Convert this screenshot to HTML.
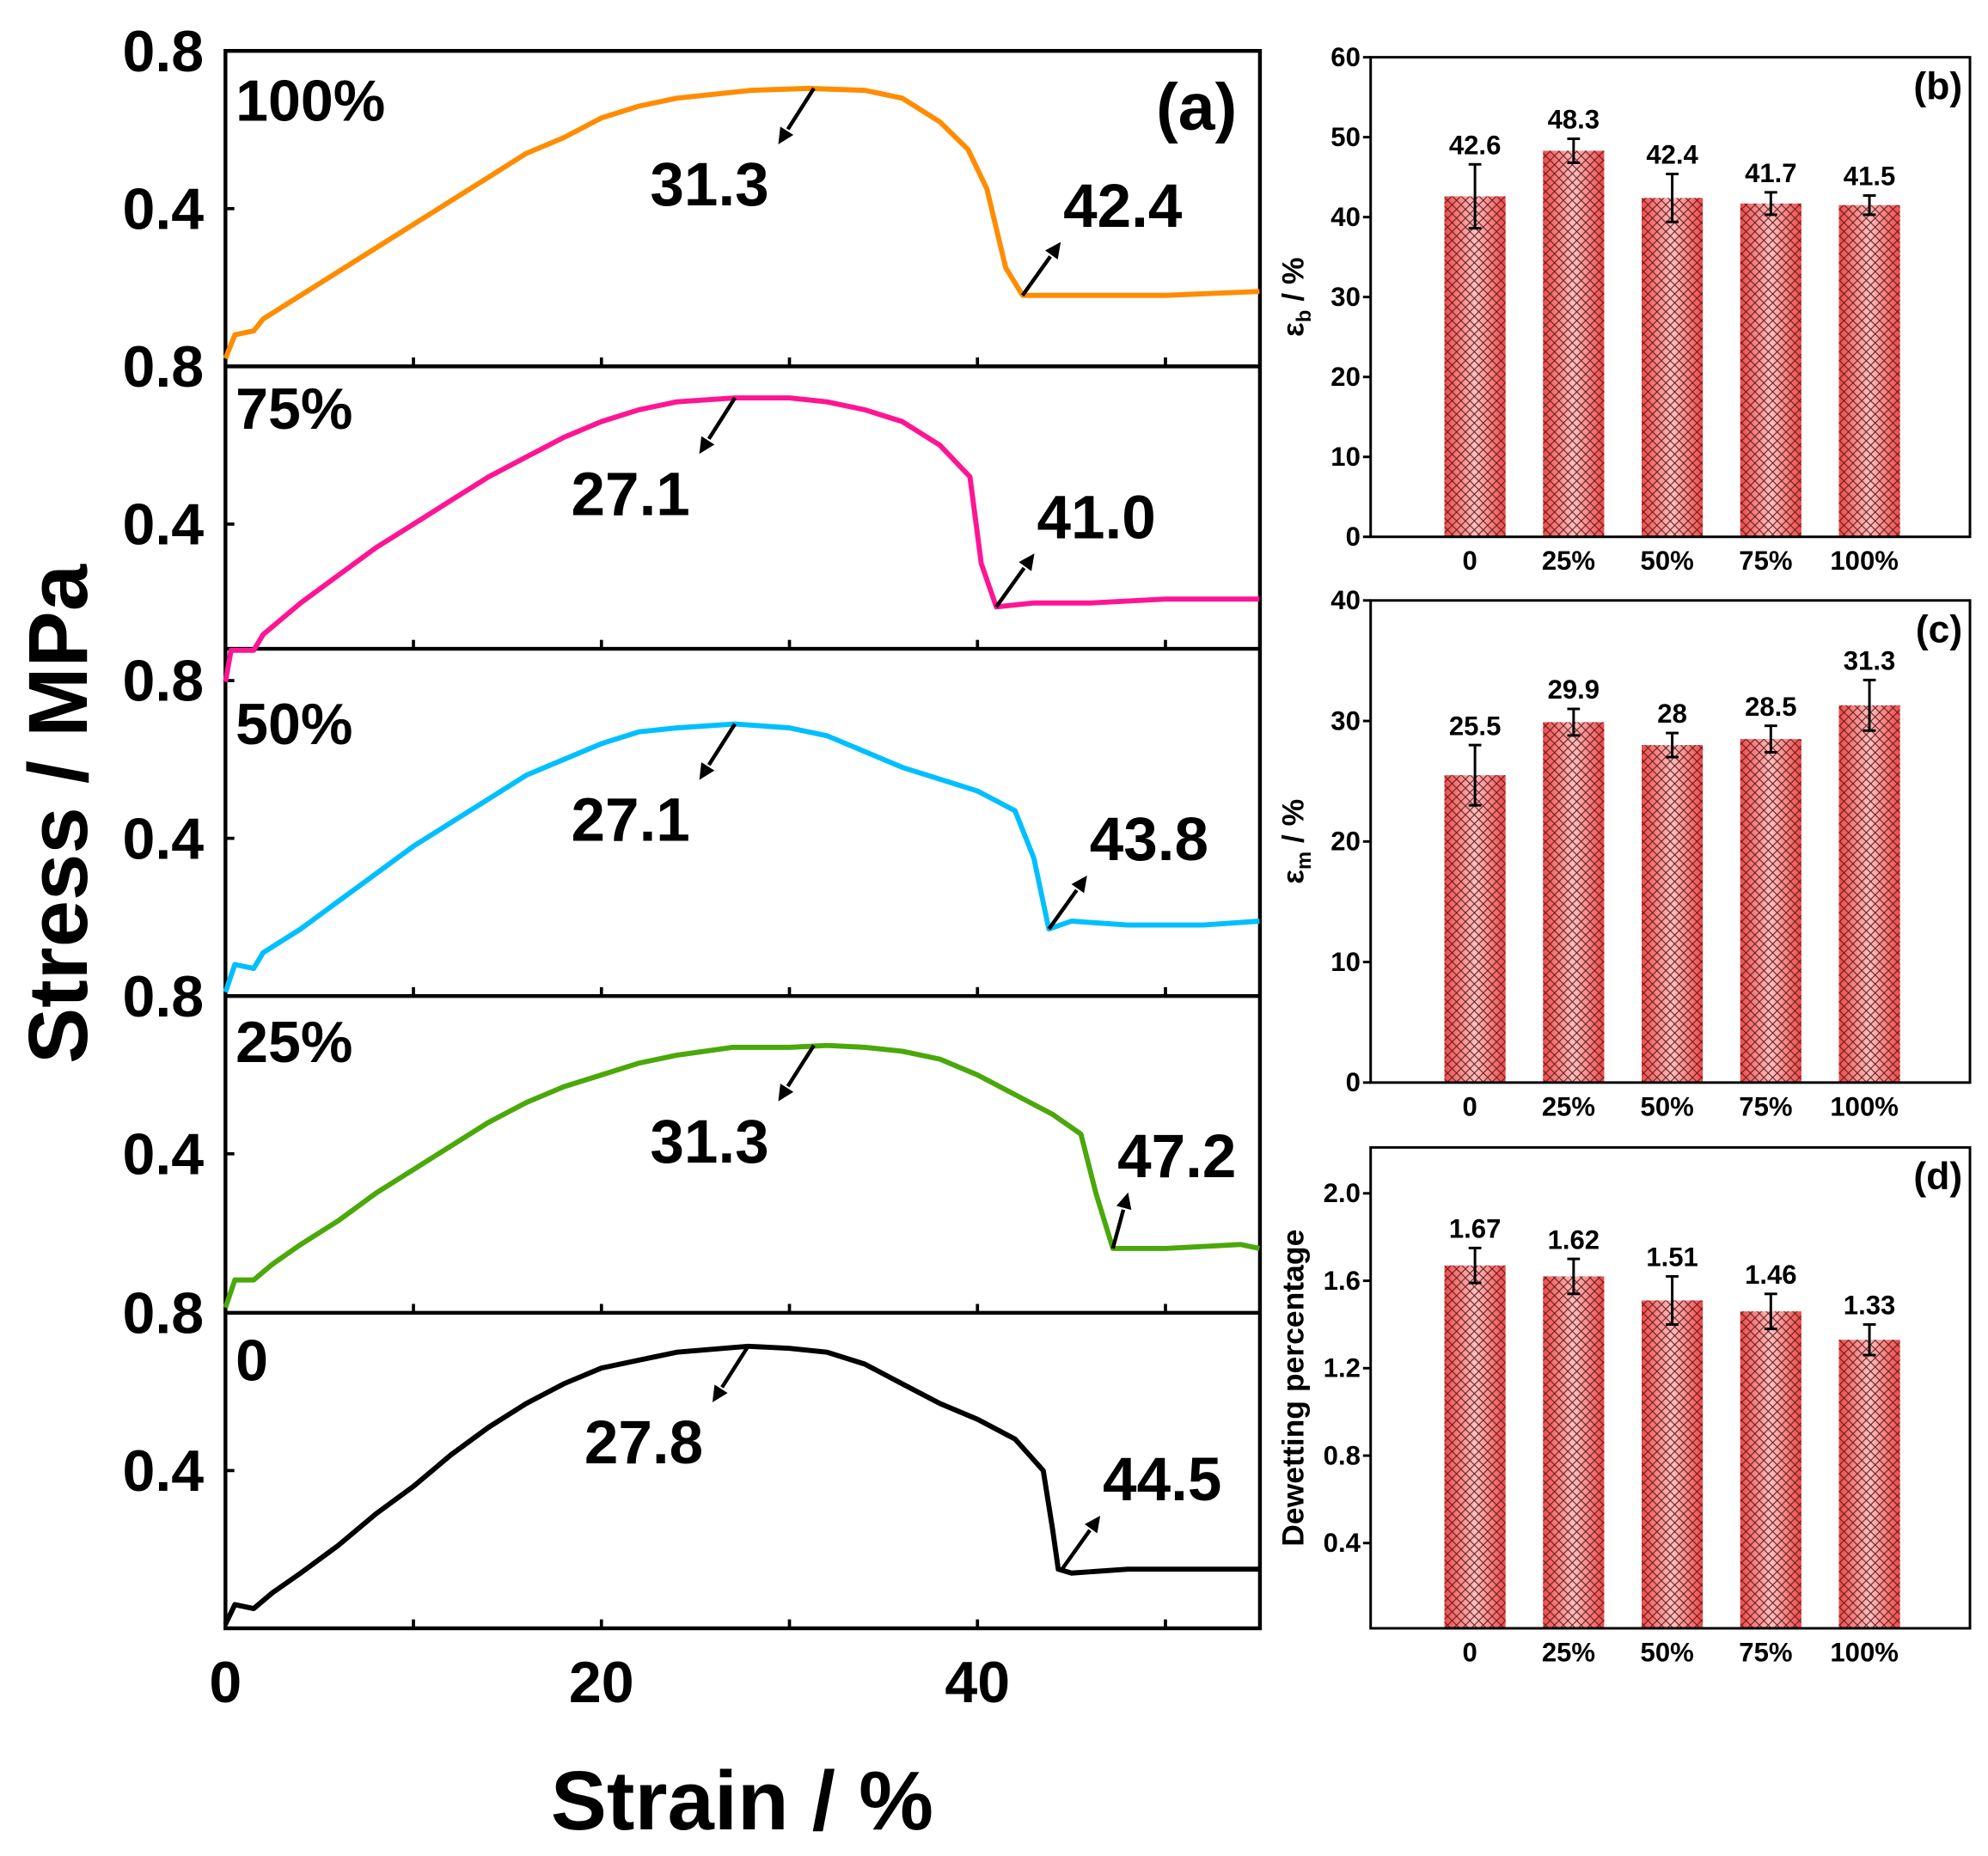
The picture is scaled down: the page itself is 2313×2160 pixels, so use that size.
<!DOCTYPE html>
<html><head><meta charset="utf-8"><style>
html,body{margin:0;padding:0;background:#fff;}
svg{display:block;font-family:"Liberation Sans",Arial,sans-serif;font-weight:bold;}
</style></head><body>
<svg id="fig" width="2313" height="2160" viewBox="0 0 1562 1459" xmlns="http://www.w3.org/2000/svg">
<defs>
<linearGradient id="barg" x1="0" x2="1" y1="0" y2="0">
<stop offset="0" stop-color="#f04848"/><stop offset="0.5" stop-color="#ffc0c0"/><stop offset="1" stop-color="#f04848"/>
</linearGradient>
<pattern id="hatch" width="7" height="7" patternUnits="userSpaceOnUse">
<path d="M0,0 L7,7 M7,0 L0,7" stroke="#5a1a1a" stroke-width="0.7"/>
</pattern>
</defs>
<g id="a"></g><g id="bars"></g>
</svg>
<script>
const NS="http://www.w3.org/2000/svg";
// ---- Panel (a) data ----
const panelNames=["100%","75%","50%","25%","0"];
const panelColors=["#ff8c00","#ff1493","#00bfff","#4aa80a","#000000"];
const strain100=[0,0.5,1.5,2,4,6,8,10,12,14,16,18,20,22,24,26,28,31,34,36,38,39.5,40.5,41.5,42.4,44,46,50,55];
const stress100=[0.02,0.08,0.09,0.12,0.18,0.24,0.30,0.36,0.42,0.48,0.54,0.58,0.63,0.66,0.68,0.69,0.70,0.705,0.70,0.68,0.62,0.55,0.45,0.25,0.18,0.18,0.18,0.18,0.19];
const strain75=[0,0.3,1.5,2,4,6,8,10,12,14,16,18,20,22,24,27.1,30,32,34,36,38,39.6,40.2,41,43,46,50,55];
const stress75=[0,0.08,0.08,0.12,0.2,0.27,0.34,0.40,0.46,0.52,0.57,0.62,0.66,0.69,0.71,0.72,0.72,0.71,0.69,0.66,0.6,0.52,0.3,0.19,0.2,0.2,0.21,0.21];
const strain50=[0,0.5,1.5,2,4,6,8,10,12,14,16,18,20,22,24,27.1,30,32,34,36,38,40,42,43,43.8,45,48,52,55];
const stress50=[0.01,0.08,0.07,0.11,0.17,0.24,0.31,0.38,0.44,0.50,0.56,0.60,0.64,0.67,0.68,0.69,0.68,0.66,0.62,0.58,0.55,0.52,0.47,0.35,0.17,0.19,0.18,0.18,0.19];
const strain25=[0,0.5,1.5,2.5,4,6,8,10,12,14,16,18,20,22,24,27,30,32,34,36,38,40,42,44,45.5,46.3,47.2,50,54,55];
const stress25=[0.01,0.08,0.08,0.12,0.17,0.23,0.30,0.36,0.42,0.48,0.53,0.57,0.60,0.63,0.65,0.67,0.67,0.675,0.67,0.66,0.64,0.60,0.55,0.50,0.45,0.3,0.16,0.16,0.17,0.16];
const strain0=[0,0.5,1.5,2.5,4,6,8,10,12,14,16,18,20,22,24,27.8,30,32,34,36,38,40,42,43.5,44,44.3,45,48,52,55];
const stress0=[0.01,0.06,0.05,0.09,0.14,0.21,0.29,0.36,0.44,0.51,0.57,0.62,0.66,0.68,0.70,0.715,0.71,0.70,0.67,0.62,0.57,0.53,0.48,0.40,0.25,0.15,0.14,0.15,0.15,0.15];
const peakStrain=[31.3,27.1,27.1,31.3,27.8];
const breakStrain=[42.4,41.0,43.8,47.2,44.5];
const xTicks=[0,20,40];
// ---- Bar data ----
const categories=["0","25%","50%","75%","100%"];
const epsB=[42.6,48.3,42.4,41.7,41.5];
const epsBErr=[4.0,1.5,3.0,1.4,1.2];
const epsBLabels=["42.6","48.3","42.4","41.7","41.5"];
const epsM=[25.5,29.9,28,28.5,31.3];
const epsMErr=[2.5,1.1,1.0,1.1,2.1];
const epsMLabels=["25.5","29.9","28","28.5","31.3"];
const dewet=[1.67,1.62,1.51,1.46,1.33];
const dewetErr=[0.08,0.08,0.11,0.08,0.07];
const dewetLabels=["1.67","1.62","1.51","1.46","1.33"];
const ticksB=[0,10,20,30,40,50,60];
const ticksC=[0,10,20,30,40];
const ticksD=[0.4,0.8,1.2,1.6,2.0];

function mk(tag,attrs,parent,text){const e=document.createElementNS(NS,tag);for(const k in attrs)e.setAttribute(k,attrs[k]);if(text!==undefined)e.textContent=text;parent.appendChild(e);return e;}
const A=document.getElementById('a');
const X0=177,X1=990;
const xs=s=>X0+s*(768-177)/40;
const tops=[40,288,535,783,1032];
const ys=(p,v)=>tops[p]+(0.8-v)*310;
const seriesX=[strain100,strain75,strain50,strain25,strain0];
const seriesY=[stress100,stress75,stress50,stress25,stress0];
let r=mk('rect',{x:X0,y:40,width:X1-X0,height:1240,fill:'none',stroke:'#000','stroke-width':3},A);

[288,510,783,1032].forEach(y=>{const l=mk('line',{x1:X0,x2:X1,y1:y,y2:y,stroke:'#000','stroke-width':3},A);
});
const bottoms=[288,510,783,1032,1280];
bottoms.forEach(b=>{for(let s=10;s<=50;s+=10){const l=mk('line',{x1:xs(s),x2:xs(s),y1:b,y2:b-7,stroke:'#000','stroke-width':2.5},A);
}});
for(let p=0;p<5;p++){
 [0.8,0.4].forEach(v=>{const y=ys(p,v);const l=mk('line',{x1:X0,x2:X0+7,y1:y,y2:y,stroke:'#000','stroke-width':2.5},A);
 
 const t=mk('text',{x:160,y:y+16,'font-size':46,'text-anchor':'end'},A,v.toFixed(1));
 });
}
xTicks.forEach(s=>{const t=mk('text',{x:xs(s),y:1338,'font-size':46,'text-anchor':'middle'},A,String(s));
 });
let t=mk('text',{x:583,y:1438,'font-size':66,'text-anchor':'middle'},A,'Strain / %');

t=mk('text',{x:0,y:0,'font-size':66,'text-anchor':'middle',transform:'translate(68,640) rotate(-90)'},A,'Stress / MPa');

t=mk('text',{x:972,y:102,'font-size':52,'text-anchor':'end'},A,'(a)');

const nameY=[95,337,585,835,1085];
function arrow(x1,y1,x2,y2,name){
 const g=mk('g',{},A);
 const ang=Math.atan2(y2-y1,x2-x1),h=14,w=0.45;
 const bx=x2-h*Math.cos(ang),by=y2-h*Math.sin(ang);
 mk('line',{x1:x1,y1:y1,x2:bx,y2:by,stroke:'#000','stroke-width':3},g);
 mk('polygon',{points:`${x2},${y2} ${x2-h*Math.cos(ang-w)},${y2-h*Math.sin(ang-w)} ${x2-h*Math.cos(ang+w)},${y2-h*Math.sin(ang+w)}`,fill:'#000'},g);
}
for(let p=0;p<5;p++){
 const X=seriesX[p],Y=seriesY[p];
 const d=X.map((s,i)=>(i?'L':'M')+xs(s).toFixed(1)+','+ys(p,Y[i]).toFixed(1)).join(' ');
 const path=mk('path',{d:d,fill:'none',stroke:panelColors[p],'stroke-width':4,'stroke-linejoin':'round'},A);
 
 const n=mk('text',{x:185,y:nameY[p],'font-size':46},A,panelNames[p]);
 
 const pk=peakStrain[p],pkY=ys(p,Math.max(...Y));
 const tx=xs(pk)-28,ty=pkY+44;
 arrow(xs(pk),pkY,tx,ty,'peak-arrow');
 const pt=mk('text',{x:tx-54,y:ty+48,'font-size':48,'text-anchor':'middle'},A,pk.toFixed(1));
 
 const bs=breakStrain[p];let bi=0;X.forEach((s,i)=>{if(Math.abs(s-bs)<Math.abs(X[bi]-bs))bi=i;});
 const bY=ys(p,Y[bi]);
 const dx=p===3?12:30,dy=p===3?44:42;
 const bx2=xs(bs)+dx,by2=bY-dy;
 arrow(xs(bs),bY,bx2,by2,'break-arrow');
 const bt=mk('text',{x:Math.min(bx2+2,878),y:by2-12,'font-size':48,'text-anchor':'start'},A,bs.toFixed(1));
 
}
// ---- Bar panels ----
const B=document.getElementById('bars');
const BX0=1077,BX1=1548;
const centers=i=>1159+i*77.5;
function barPanel(top,bot,vmin,vmax,vals,errs,labs,ticks,tickFmt,ylabel,sub,panelLab){
 const g=mk('g',{},B);
 const yv=v=>bot-(v-vmin)/(vmax-vmin)*(bot-top);
 vals.forEach((v,i)=>{
  const x=centers(i)-24;
  const b=mk('rect',{x:x,y:yv(v),width:48,height:bot-yv(v),fill:'url(#barg)'},g);
  
  mk('rect',{x:x,y:yv(v),width:48,height:bot-yv(v),fill:'url(#hatch)'},g);
  const e=mk('g',{},g);
  const c=centers(i),y1=yv(v+errs[i]),y2=yv(v-errs[i]);
  mk('line',{x1:c,x2:c,y1:y1,y2:y2,stroke:'#000','stroke-width':2},e);
  mk('line',{x1:c-5,x2:c+5,y1:y1,y2:y1,stroke:'#000','stroke-width':2},e);
  mk('line',{x1:c-5,x2:c+5,y1:y2,y2:y2,stroke:'#000','stroke-width':2},e);
  const vl=mk('text',{x:c,y:y1-8,'font-size':21,'text-anchor':'middle'},g,labs[i]);
  
  const cl=mk('text',{x:c-4,y:bot+26,'font-size':21,'text-anchor':'middle'},g,categories[i]);
  
 });
 const f=mk('rect',{x:BX0,y:top,width:BX1-BX0,height:bot-top,fill:'none',stroke:'#000','stroke-width':2},g);
 
 ticks.forEach(v=>{const y=yv(v);
  const l=mk('line',{x1:BX0,x2:BX0-6,y1:y,y2:y,stroke:'#000','stroke-width':2},g);
  
  const tl=mk('text',{x:BX0-8,y:y+7,'font-size':21,'text-anchor':'end'},g,tickFmt(v));
  });
 const yl=mk('text',{x:0,y:0,'font-size':24,'text-anchor':'middle',transform:`translate(1024,${(top+bot)/2}) rotate(-90)`},g);
 
 yl.appendChild(document.createTextNode(ylabel));
 if(sub){mk('tspan',{'font-size':16,dy:6},yl,sub);mk('tspan',{dy:-6},yl,' / %');}
 const pl=mk('text',{x:1542,y:top+33,'font-size':30,'text-anchor':'end'},g,'('+panelLab+')');
 
}
barPanel(45,422,0,60,epsB,epsBErr,epsBLabels,ticksB,v=>String(v),'ε','b','b');
barPanel(472,851,0,40,epsM,epsMErr,epsMLabels,ticksC,v=>String(v),'ε','m','c');
barPanel(902,1280,0.01,2.21,dewet,dewetErr,dewetLabels,ticksD,v=>v.toFixed(1),'Dewetting percentage',null,'d');
</script>
</body></html>
